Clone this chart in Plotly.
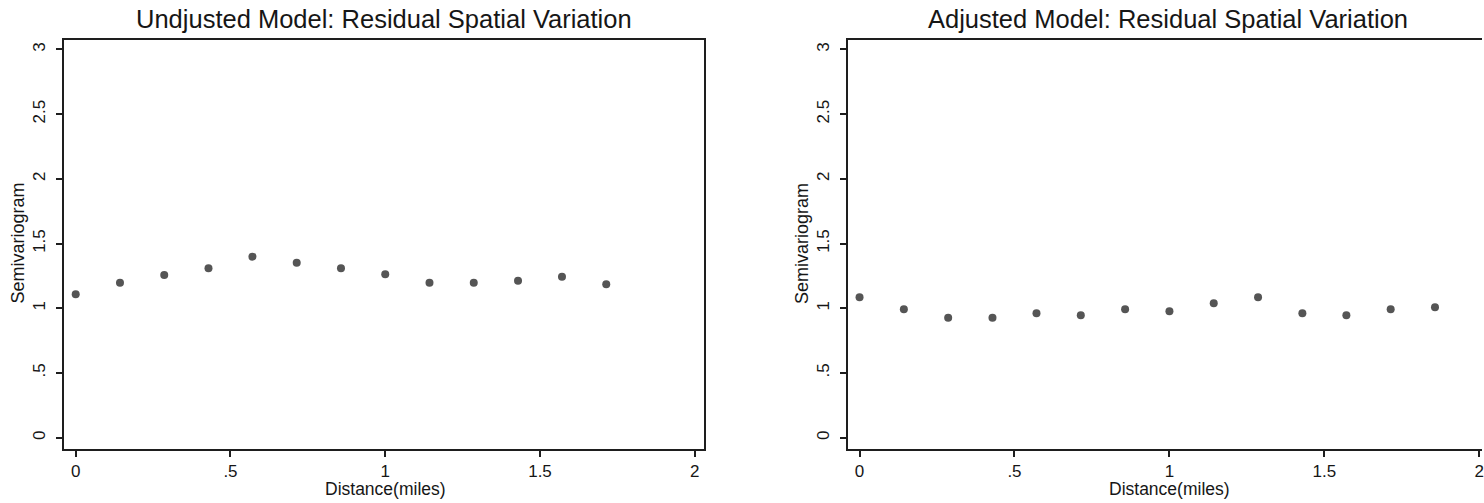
import plotly.graph_objects as go

# ---- data ----
dist_unadj = [0.0, 0.143, 0.286, 0.429, 0.571, 0.714, 0.857, 1.0, 1.143, 1.286, 1.429, 1.571, 1.714]
semi_unadj = [1.108, 1.198, 1.257, 1.309, 1.399, 1.352, 1.309, 1.263, 1.198, 1.198, 1.213, 1.244, 1.185]

dist_adj = [0.0, 0.143, 0.286, 0.429, 0.571, 0.714, 0.857, 1.0, 1.143, 1.286, 1.429, 1.571, 1.714, 1.857]
semi_adj = [1.085, 0.992, 0.927, 0.927, 0.961, 0.946, 0.992, 0.977, 1.039, 1.085, 0.961, 0.946, 0.992, 1.008]

y_tickvals = [0, 0.5, 1, 1.5, 2, 2.5, 3]
y_ticktext = ["0", ".5", "1", "1.5", "2", "2.5", "3"]
x_tickvals = [0, 0.5, 1, 1.5, 2]
x_ticktext = ["0", ".5", "1", "1.5", "2"]

titles = ["Undjusted Model: Residual Spatial Variation", "Adjusted Model: Residual Spatial Variation"]
x_title = "Distance(miles)"
y_title = "Semivariogram"

W, H = 1484, 503
FONT = "Liberation Sans, Arial, sans-serif"
TXT = "#161616"
AX = "#1e1e1e"
MK = "#555555"

fig = go.Figure()
fig.add_trace(go.Scatter(x=dist_unadj, y=semi_unadj, mode="markers",
                         marker=dict(size=8, color=MK), xaxis="x", yaxis="y",
                         showlegend=False, hoverinfo="skip"))
fig.add_trace(go.Scatter(x=dist_adj, y=semi_adj, mode="markers",
                         marker=dict(size=8, color=MK), xaxis="x2", yaxis="y2",
                         showlegend=False, hoverinfo="skip"))

# pixel geometry
L1, R1 = 64, 705
L2, R2 = 849, 1484
TOP, BOT = 40, 449
ydom = [(H - BOT) / H, (H - TOP) / H]

common_x = dict(showgrid=False, zeroline=False, showline=True, linecolor=AX, linewidth=2,
                mirror=True, ticks="outside", ticklen=6, tickwidth=1.5, tickcolor=AX,
                tickvals=x_tickvals, ticktext=x_ticktext, ticklabeloverflow="allow",
                tickfont=dict(family=FONT, size=17, color=TXT), ticklabelstandoff=0)
common_y = dict(showgrid=False, zeroline=False, showline=True, linecolor=AX, linewidth=2,
                ticks="outside", ticklen=6, tickwidth=1.5, tickcolor=AX,
                tickvals=y_tickvals, ticktext=y_ticktext, tickangle=-90,
                tickfont=dict(family=FONT, size=17, color=TXT), range=[-0.0873, 3.073],
                domain=ydom, ticklabelstandoff=4)

fig.update_layout(
    width=W, height=H, margin=dict(l=0, r=0, t=0, b=0),
    paper_bgcolor="white", plot_bgcolor="white",
    xaxis=dict(domain=[L1 / W, R1 / W], range=[-0.0381, 2.030], anchor="y", **common_x),
    yaxis=dict(anchor="x", mirror=True, **common_y),
    xaxis2=dict(domain=[L2 / W, 1.0], range=[-0.0377, 2.0087], anchor="y2", **common_x),
    yaxis2=dict(anchor="x2", mirror=False, **common_y),
)

ann = []
centers = [(L1 + R1) / 2, (L2 + 1490) / 2]
for i, c in enumerate(centers):
    ann.append(dict(text=titles[i], x=c / W, y=1 - 19 / H, xref="paper", yref="paper",
                    xanchor="center", yanchor="middle", showarrow=False,
                    font=dict(family=FONT, size=25.5, color=TXT)))
for xc in [386, 1171]:
    ann.append(dict(text=x_title, x=xc / W, y=1 - 489 / H, xref="paper", yref="paper",
                    xanchor="center", yanchor="middle", showarrow=False,
                    font=dict(family=FONT, size=17.5, color=TXT)))
for xc in [18.5, 803]:
    ann.append(dict(text=y_title, x=xc / W, y=1 - 243 / H, xref="paper", yref="paper",
                    xanchor="center", yanchor="middle", textangle=-90, showarrow=False,
                    font=dict(family=FONT, size=18, color=TXT)))
fig.update_layout(annotations=ann)

fig.write_html("out.html")
